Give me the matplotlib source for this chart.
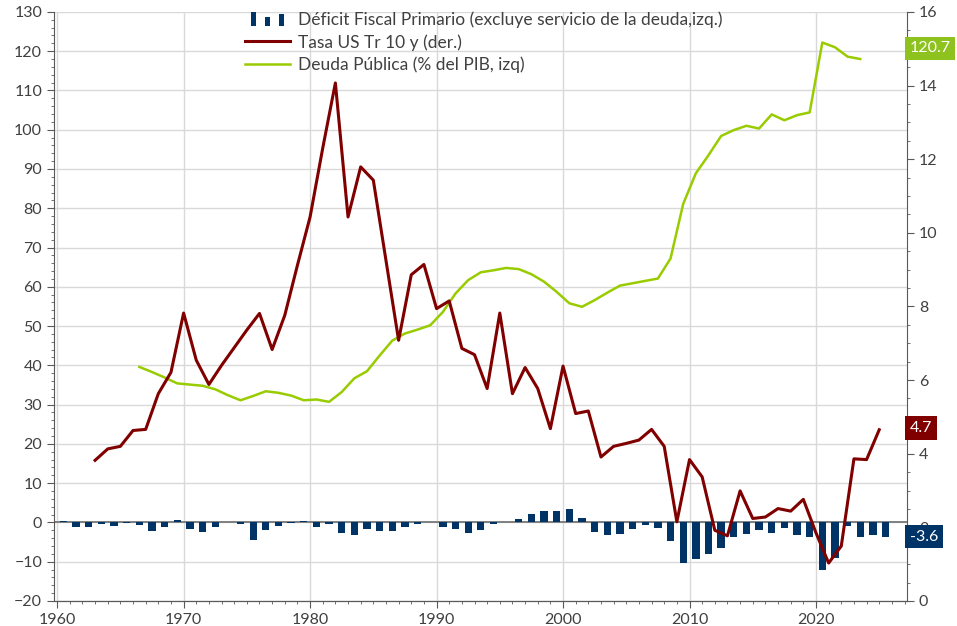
import matplotlib.pyplot as plt
import matplotlib.transforms as mtransforms
from matplotlib.patches import Rectangle
from matplotlib.legend_handler import HandlerBase
from matplotlib.ticker import MultipleLocator

# Déficit fiscal primario (% PIB, eje izq.), un valor por año
deficit_years = list(range(1960, 2026))
deficit = [0.3, -1.2, -1.2, -0.3, -0.85, -0.25, -0.6, -2.1, -1.2, 0.5,
           -1.6, -2.4, -1.1, 0.15, -0.4, -4.4, -2.0, -0.85, -0.1, 0.4,
           -1.1, -0.4, -2.6, -3.1, -1.8, -2.1, -2.1, -1.2, -0.3, 0.1,
           -1.2, -1.7, -2.6, -1.9, -0.5, 0.05, 0.9, 2.1, 3.0, 3.0,
           3.4, 1.2, -2.4, -3.3, -2.9, -1.6, -0.6, -1.3, -4.7, -10.3,
           -9.4, -8.0, -6.5, -3.6, -2.9, -2.0, -2.6, -1.5, -3.1, -3.6,
           -12.0, -9.1, -0.8, -3.6, -3.3, -3.6]

# Tasa US Treasury 10 años (eje der.)
tasa_years = list(range(1963, 2026))
tasa = [3.82, 4.13, 4.20, 4.63, 4.66, 5.63, 6.21, 7.82, 6.54, 5.88,
        6.40, 6.88, 7.36, 7.81, 6.83, 7.76, 9.12, 10.43, 12.30, 14.07,
        10.43, 11.79, 11.43, 9.25, 7.08, 8.86, 9.14, 7.94, 8.15, 6.86,
        6.69, 5.77, 7.82, 5.63, 6.34, 5.77, 4.68, 6.38, 5.09, 5.16,
        3.91, 4.20, 4.28, 4.37, 4.66, 4.20, 2.15, 3.84, 3.37, 1.92,
        1.77, 2.99, 2.24, 2.28, 2.51, 2.44, 2.76, 1.85, 1.03, 1.49,
        3.86, 3.84, 4.65]

# Deuda pública (% del PIB, eje izq.)
deuda_years = list(range(1966, 2024))
deuda = [39.6, 38.3, 36.9, 35.4, 35.1, 34.8, 33.9, 32.4, 31.1, 32.2,
         33.4, 33.0, 32.3, 31.1, 31.3, 30.7, 33.2, 36.7, 38.5, 42.5,
         46.3, 48.1, 49.1, 50.2, 53.6, 58.3, 61.7, 63.7, 64.2, 64.8,
         64.5, 63.2, 61.3, 58.7, 55.8, 54.9, 56.6, 58.5, 60.3, 60.9,
         61.5, 62.1, 67.2, 81.1, 88.9, 93.5, 98.4, 99.9, 101.0, 100.3,
         103.9, 102.4, 103.7, 104.4, 122.2, 121.0, 118.6, 118.0]

navy = '#003366'
red = '#800000'
green = '#99cc00'
txt = '#404040'


class ThreeBars(HandlerBase):
    # the little "three bars" legend key
    def create_artists(self, legend, orig_handle, xdescent, ydescent,
                       width, height, fontsize, trans):
        arts = []
        bw = width * 0.11
        for i, h in enumerate([1.2, 0.75, 1.0]):
            x0 = -xdescent + width * 0.15 + i * width * 0.31
            r = Rectangle((x0, -ydescent - 1), bw, height * h,
                          facecolor=navy, edgecolor='none', transform=trans)
            arts.append(r)
        return arts


plt.rcParams['font.family'] = ['Lato', 'DejaVu Sans']
fig = plt.figure(figsize=(9.57, 6.26), dpi=100)
ax = fig.add_axes([0.0564, 0.040, 0.8914, 0.941])
ax2 = ax.twinx()

ax.bar([y + 0.5 for y in deficit_years], deficit, width=0.58, color=navy,
       zorder=3, label='Déficit Fiscal Primario (excluye servicio de la deuda,izq.)')
ax.plot([y + 0.5 for y in deuda_years], deuda, color=green, lw=1.8, zorder=4,
        label='Deuda Pública (% del PIB, izq)')
ax2.plot(tasa_years, tasa, color=red, lw=2.2, zorder=4,
         label='Tasa US Tr 10 y (der.)')
ax.axhline(0, color='#808080', lw=1.4, zorder=2)

ax.set_xlim(1959.75, 2027.2)
ax.set_ylim(-20, 130)
ax2.set_ylim(0, 16)
ax.xaxis.set_major_locator(MultipleLocator(10))
ax.xaxis.set_minor_locator(MultipleLocator(1))
ax.yaxis.set_major_locator(MultipleLocator(10))
ax.yaxis.set_minor_locator(MultipleLocator(2))
ax2.yaxis.set_major_locator(MultipleLocator(2))
ax2.yaxis.set_minor_locator(MultipleLocator(0.5))

ax.grid(True, which='major', color='#d9d9d9', lw=1.0, zorder=0)
ax.set_axisbelow(True)
for a in (ax, ax2):
    a.spines['top'].set_visible(False)
    for s in ('left', 'right', 'bottom'):
        a.spines[s].set_color('#595959')
    a.tick_params(which='both', colors='#595959', labelcolor=txt, labelsize=11.5)
    a.tick_params(which='major', length=5)
    a.tick_params(which='minor', length=2.5)
ax.spines['right'].set_visible(False)
ax2.spines['left'].set_visible(False)

# value tags at the right edge (drawn over the right tick labels)
tr_l = mtransforms.blended_transform_factory(ax2.transAxes, ax.transData)
tr_r = ax2.get_yaxis_transform()
tag = dict(color='white', fontsize=11.5, va='center', ha='left',
           clip_on=False, zorder=10)
ax2.text(1.003, 120.7, '120.7', transform=tr_l,
         bbox=dict(boxstyle='square,pad=0.3', fc='#8dc21f', ec='none'), **tag)
ax2.text(1.003, 4.7, '4.7', transform=tr_r,
         bbox=dict(boxstyle='square,pad=0.3', fc=red, ec='none'), **tag)
ax2.text(1.003, -3.6, '-3.6', transform=tr_l,
         bbox=dict(boxstyle='square,pad=0.3', fc=navy, ec='none'), **tag)

h1, l1 = ax.get_legend_handles_labels()
h2, l2 = ax2.get_legend_handles_labels()
bar_h, deuda_h = h1[1], h1[0]
if l1[0].startswith('Déficit'):
    bar_h, deuda_h = h1[0], h1[1]
leg = fig.legend([bar_h, h2[0], deuda_h],
                 ['Déficit Fiscal Primario (excluye servicio de la deuda,izq.)',
                  'Tasa US Tr 10 y (der.)', 'Deuda Pública (% del PIB, izq)'],
                 handler_map={bar_h: ThreeBars()},
                 loc='upper left', bbox_to_anchor=(0.2430, 1.0016),
                 frameon=False, fontsize=12.5, handlelength=2.6,
                 handletextpad=0.45, labelspacing=0.36, borderpad=0.2)
for t in leg.get_texts():
    t.set_color(txt)

plt.savefig('out.png', dpi=100)
